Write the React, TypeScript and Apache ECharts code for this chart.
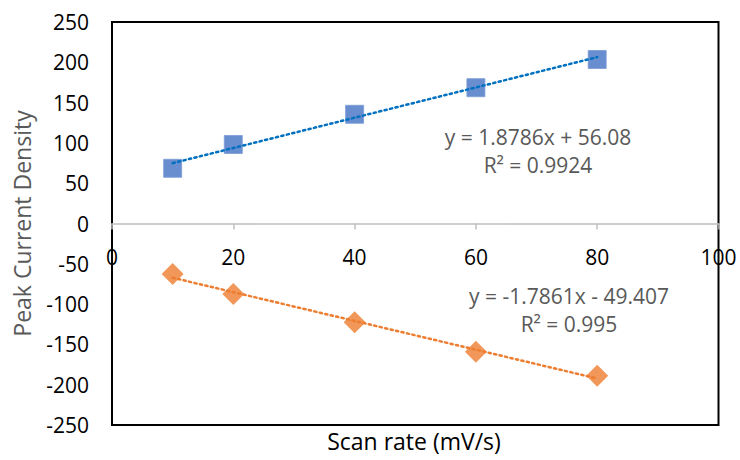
import React, { useEffect, useRef } from "react";
import * as echarts from "echarts";

const scanRates = [10, 20, 40, 60, 80];
const anodicPeak = [68.5, 98, 135.5, 168.5, 203.5];
const cathodicPeak = [-62.5, -87.5, -122.5, -159, -189];
const anodicTrend = [[10, 74.9], [80, 206.4]];
const cathodicTrend = [[10, -67.3], [80, -192.3]];
const anodicEq = ["y = 1.8786x + 56.08", "R² = 0.9924"];
const cathodicEq = ["y = -1.7861x - 49.407", "R² = 0.995"];

const FONT = "'Open Sans', 'Noto Sans', sans-serif";

export default function App() {
  const ref = useRef<HTMLDivElement>(null);
  useEffect(() => {
    if (!ref.current) return;
    const chart = echarts.init(ref.current, undefined, { renderer: "svg" });
    const eqText = (x: number, y: number, text: string) => ({
      type: "text",
      x,
      y,
      style: {
        text,
        fill: "#595959",
        font: `21px ${FONT}`,
        textAlign: "center",
        textVerticalAlign: "middle",
      },
    });
    chart.setOption({
      animation: false,
      backgroundColor: "#ffffff",
      textStyle: { fontFamily: FONT },
      grid: {
        left: 112,
        right: 21.5,
        top: 22,
        bottom: 35,
        show: true,
        borderColor: "#000000",
        borderWidth: 2,
        backgroundColor: "transparent",
      },
      xAxis: {
        type: "value",
        min: 0,
        max: 100,
        interval: 20,
        position: "bottom",
        offset: -201.5,
        axisLine: { onZero: false, lineStyle: { color: "#BFBFBF", width: 1.5 } },
        axisTick: { show: true, length: 6, lineStyle: { color: "#BFBFBF", width: 1.5 } },
        axisLabel: { color: "#000000", fontSize: 21, fontFamily: FONT, margin: 23 },
        splitLine: { show: false },
      },
      yAxis: {
        type: "value",
        min: -250,
        max: 250,
        interval: 50,
        axisLine: { show: false },
        axisTick: { show: false },
        axisLabel: { color: "#000000", fontSize: 21, fontFamily: FONT, margin: 23 },
        splitLine: { show: false },
      },
      series: [
        {
          type: "scatter",
          data: scanRates.map((x, i) => [x, anodicPeak[i]]),
          symbol: "rect",
          symbolSize: 18,
          itemStyle: { color: "#4472C4", borderColor: "#7b9bd6", borderWidth: 1 },
          z: 2,
        },
        {
          type: "scatter",
          data: scanRates.map((x, i) => [x, cathodicPeak[i]]),
          symbol: "diamond",
          symbolSize: 22,
          itemStyle: { color: "#ED7D31" },
          z: 2,
        },
        {
          type: "line",
          data: anodicTrend,
          symbol: "none",
          lineStyle: { color: "#0070C0", width: 2.5, type: [2.2, 3.4], cap: "round" },
          z: 3,
        },
        {
          type: "line",
          data: cathodicTrend,
          symbol: "none",
          lineStyle: { color: "#ED7D31", width: 2.5, type: [2.2, 3.4], cap: "round" },
          z: 3,
        },
      ],
      graphic: [
        {
          type: "text",
          x: 22,
          y: 223.5,
          rotation: Math.PI / 2,
          style: {
            text: "Peak Current Density",
            fill: "#595959",
            font: `23px ${FONT}`,
            textAlign: "center",
            textVerticalAlign: "middle",
          },
        },
        {
          type: "text",
          x: 414,
          y: 441,
          style: {
            text: "Scan rate (mV/s)",
            fill: "#000000",
            font: `23px ${FONT}`,
            textAlign: "center",
            textVerticalAlign: "middle",
          },
        },
        eqText(538, 137, anodicEq[0]),
        eqText(538, 165, anodicEq[1]),
        eqText(569, 296, cathodicEq[0]),
        eqText(569, 324, cathodicEq[1]),
      ],
    });
    return () => chart.dispose();
  }, []);
  return <div ref={ref} style={{ width: 740, height: 460, position: "absolute", left: 0, top: 0 }} />;
}
